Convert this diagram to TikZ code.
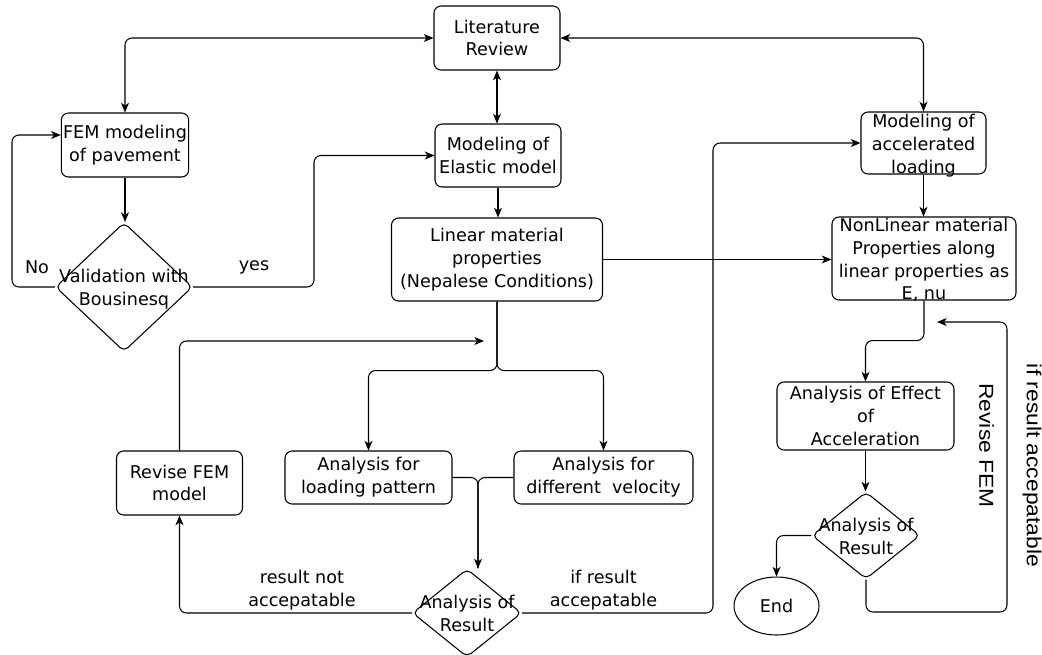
\documentclass[tikz,border=0pt]{standalone}
\usepackage{fontspec}
\setmainfont{DejaVu Sans}
\newfontfamily\arialfont{Liberation Sans}
\usetikzlibrary{shapes.geometric, arrows.meta}

% text that may overflow its shape
\newcommand{\fixtext}[1]{\makebox[0pt]{\smash{\raisebox{-4pt}{\begin{tabular}{@{}c@{}}#1\end{tabular}}}}}

\begin{document}
\begin{tikzpicture}[
    x=0.02cm, y=-0.02cm,
    font=\fontsize{10}{13}\selectfont,
    >={Stealth[length=5.5pt, width=4.5pt, inset=1.5pt]},
    box/.style={rectangle, draw, rounded corners=4pt, line width=0.6pt, align=center, inner sep=1pt},
    decision/.style={diamond, draw, rounded corners=3pt, line width=0.6pt, inner sep=0pt},
    terminal/.style={ellipse, draw, line width=0.6pt, inner sep=0pt},
    link/.style={->, line width=0.6pt, rounded corners=4pt},
    plainlink/.style={line width=0.6pt, rounded corners=4pt},
    lbl/.style={align=center},
    sidetext/.style={font=\arialfont\fontsize{11.5}{13}\selectfont, rotate=-90, xscale=1.13}
]
\useasboundingbox (0,0) rectangle (1042,654);

% Left column
\node[box, minimum width=2.52cm, minimum height=1.28cm] (lit) at (497,38) {Literature\\Review};
\node[box, minimum width=2.52cm, minimum height=1.28cm] (fem) at (125,145) {FEM modeling\\of pavement};
\node[decision, minimum width=2.74cm, minimum height=2.58cm] (valid) at (124,287) {\fixtext{Validation with\\Bousinesq}};
\node[box, minimum width=2.52cm, minimum height=1.28cm] (revise) at (179.5,483) {Revise FEM\\model};

% Middle column
\node[box, minimum width=2.52cm, minimum height=1.26cm] (elastic) at (498,155.5) {Modeling of\\Elastic model};
\node[box, minimum width=4.22cm, minimum height=1.66cm] (linear) at (497,259.5) {Linear material\\properties\\(Nepalese Conditions)};
\node[box, minimum width=3.34cm, minimum height=1.06cm] (loadpat) at (368.5,477.5) {Analysis for\\loading pattern};
\node[box, minimum width=3.58cm, minimum height=1.06cm] (veloc) at (603.5,477.5) {Analysis for\\different\ \ velocity};
\node[decision, minimum width=2.18cm, minimum height=1.76cm] (res1) at (467,613) {\fixtext{Analysis of\\Result}};

% Right column
\node[box, minimum width=2.5cm, minimum height=1.24cm] (accel) at (923.5,143) {\fixtext{Modeling of\\accelerated\\loading}};
\node[box, minimum width=3.68cm, minimum height=1.66cm] (nonlin) at (924,258.5) {\fixtext{NonLinear material\\Properties along\\linear properties as\\E, nu}};
\node[box, inner ysep=0pt, minimum width=3.54cm, minimum height=1.36cm] (effect) at (865.5,416) {Analysis of Effect\\of\\Acceleration};
\node[decision, minimum width=2.16cm, minimum height=1.74cm] (res2) at (866,535.5) {\fixtext{Analysis of\\Result}};
\node[terminal, minimum width=1.7cm, minimum height=1.16cm] (endn) at (776.5,606) {End};

% Labels
\node[lbl] (nolbl) at (37,267) {No};
\node[lbl] (yeslbl) at (254,267) {yes};
\node[lbl] (notacc) at (302,590) {result not\\accepatable};
\node[lbl] (ifacc) at (603.5,590) {if result\\accepatable};
\node[sidetext] (revlbl) at (986.5,445.5) {Revise FEM};
\node[sidetext] (iflbl) at (1032,465.5) {if result accepatable};

% Connections
\coordinate (spine) at (484,341);
\coordinate (merge) at (478,477.5);
\coordinate (loopcorner) at (1007,612);
\coordinate (loopend) at (937,322);

\draw[link, <->] (lit.west) -| (fem.north);
\draw[link, <->] (lit.south) -- (lit.south |- elastic.north);
\draw[link, <->] (lit.east) -| (accel.north);
\draw[link] (fem.south) -- (fem.south |- valid.north);
\draw[link] (valid.west) -- ++(-43,0) |- ([yshift=0.2cm]fem.west);
\draw[link] (valid.east) -- ++(121,0) |- (elastic.west);
\draw[link] (elastic.south) -- (elastic.south |- linear.north);
\draw[link] (linear.east) -- (linear.east -| nonlin.west);
\draw[link] (linear.south) -- ++(0,69) -| (loadpat.north);
\draw[link] (linear.south) -- ++(0,69) -| (veloc.north);
\draw[link] (revise.north) |- (spine);
\draw[plainlink] (veloc.west) -| (merge |- res1.north);
\draw[link] (loadpat.east) -| (merge |- res1.north);
\draw[link] (res1.west) -| (revise.south);
\draw[link] (res1.east) -- ++(191,0) |- (accel.west);
\draw[link] (accel.south) -- (accel.south |- nonlin.north);
\draw[link] (nonlin.south) -- ++(0,40) -| (effect.north);
\draw[link] (effect.south) -- (effect.south |- res2.north);
\draw[link] (res2.west) -| (endn.north);
\draw[link] (res2.south) |- (loopcorner) |- (loopend);

\end{tikzpicture}
\end{document}
